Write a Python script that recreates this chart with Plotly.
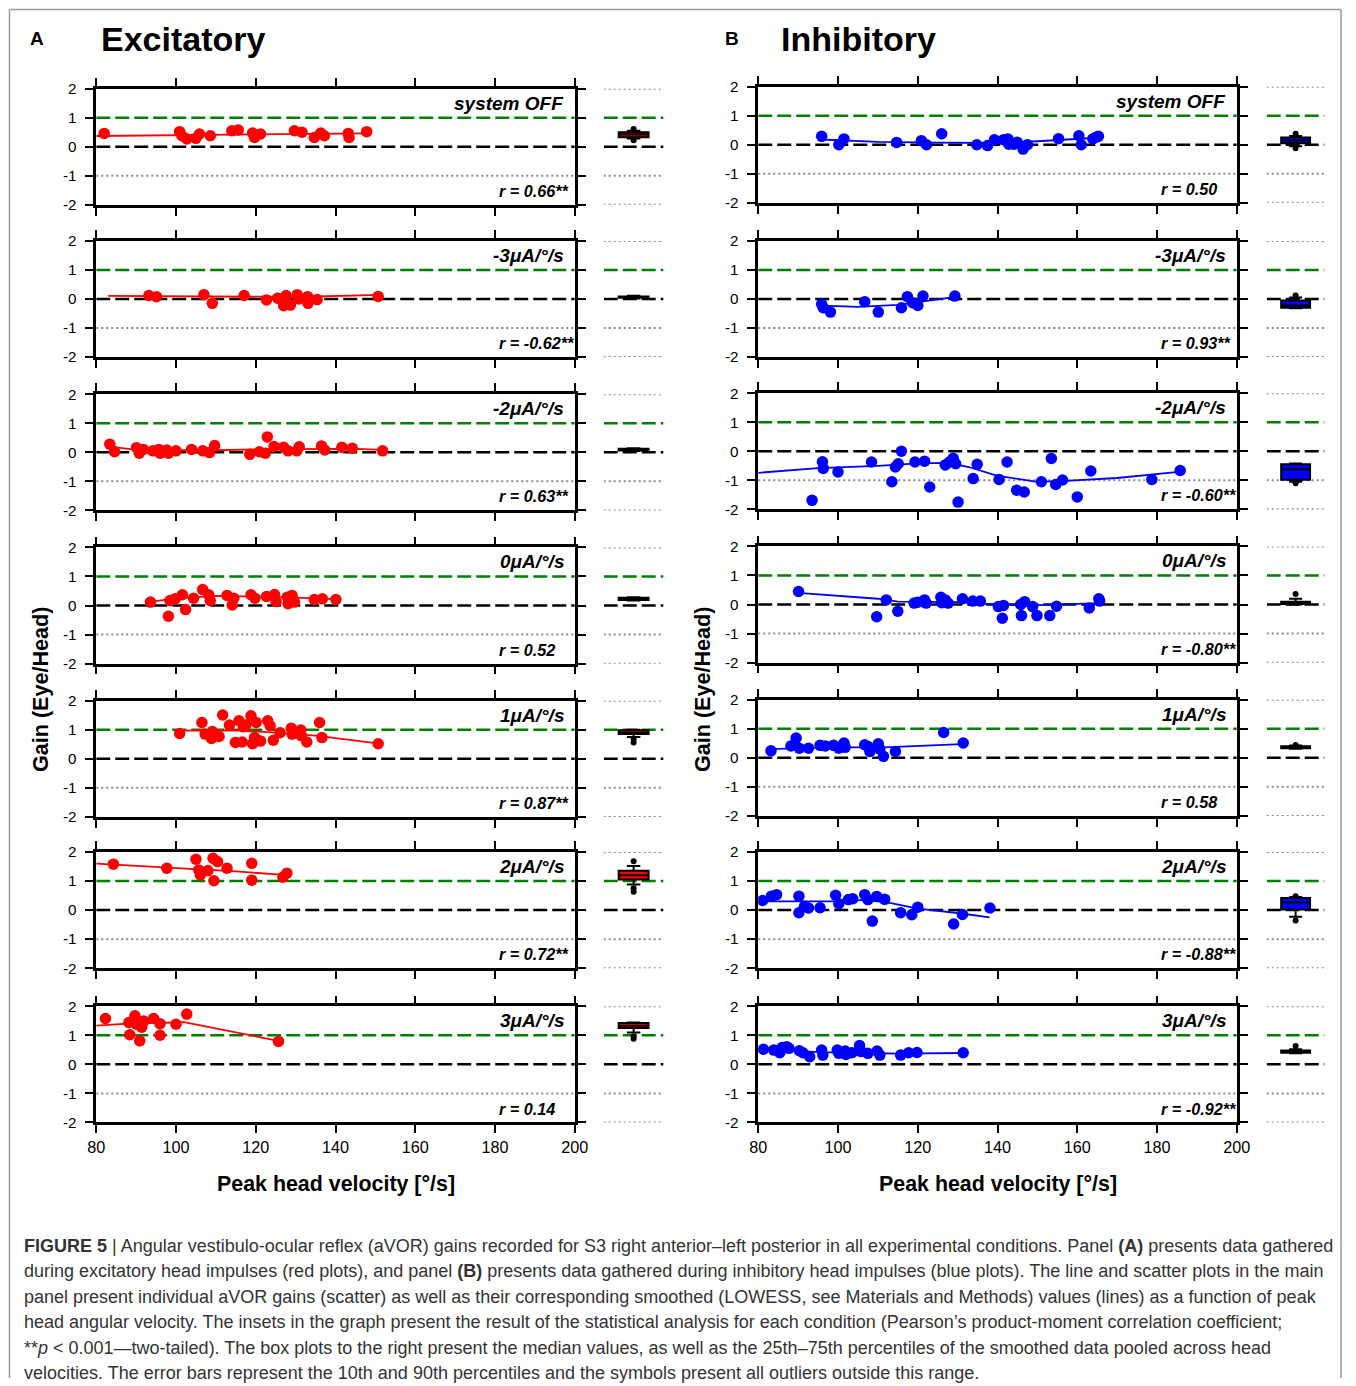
import plotly.graph_objects as go

W, H = 1356, 1386
FONT = "Liberation Sans, Arial, sans-serif"

# ---------------- data ----------------
velocity_ticks = [80, 100, 120, 140, 160, 180, 200]
gain_ticks = [-2, -1, 0, 1, 2]
gain_ticklabels = ["-2", "-1", "0", "1", "2"]

conditions = ["system OFF", "-3\u03bcA/\u00b0/s", "-2\u03bcA/\u00b0/s", "0\u03bcA/\u00b0/s",
              "1\u03bcA/\u00b0/s", "2\u03bcA/\u00b0/s", "3\u03bcA/\u00b0/s"]
exc_r = ["r = 0.66**", "r = -0.62**", "r = 0.63**", "r = 0.52", "r = 0.87**", "r = 0.72**", "r = 0.14"]
inh_r = ["r = 0.50", "r = 0.93**", "r = -0.60**", "r = -0.80**", "r = 0.58", "r = -0.88**", "r = -0.92**"]

# ---- Excitatory (A) ----
exc_off_x = [82, 100.9, 101.5, 102.7, 105, 105.9, 108.6, 114, 115.6, 119.2, 119.7, 121.2, 129.7, 131.6, 134.7, 136.3, 137.2, 143.2, 143.4, 147.8]
exc_off_y = [0.46, 0.52, 0.38, 0.27, 0.29, 0.44, 0.38, 0.55, 0.58, 0.47, 0.32, 0.44, 0.55, 0.5, 0.32, 0.47, 0.38, 0.46, 0.32, 0.52]
exc_off_lx = [80, 100, 120, 148]
exc_off_ly = [0.37, 0.40, 0.43, 0.46]

exc_m3_x = [93.2, 95.1, 107, 109.1, 117.1, 122.7, 125.5, 127, 127.6, 128.7, 130.4, 130.8, 133, 133.1, 135.4, 150.7]
exc_m3_y = [0.12, 0.08, 0.15, -0.15, 0.12, -0.03, 0.03, -0.23, 0.12, -0.21, 0.15, 0.0, 0.08, -0.15, -0.02, 0.09]
exc_m3_lx = [83, 110, 130, 151]
exc_m3_ly = [0.11, 0.08, 0.07, 0.14]

exc_m2_x = [83.4, 84.6, 90.1, 90.8, 91.8, 94.2, 95.7, 96, 97.7, 98.1, 100, 103.9, 106.7, 108.4, 109.7, 118.5, 120.9, 122.4, 122.9, 124.6, 127, 128.1, 130.3, 130.9, 136.5, 137.3, 141.6, 144.2, 151.8]
exc_m2_y = [0.28, 0.02, 0.16, -0.03, 0.1, 0.05, 0.1, -0.03, 0.08, -0.03, 0.05, 0.1, 0.05, -0.01, 0.23, -0.07, 0.02, -0.03, 0.53, 0.2, 0.17, 0.05, 0.05, 0.19, 0.22, 0.08, 0.17, 0.14, 0.05]
exc_m2_lx = [83, 90, 110, 125, 145, 152]
exc_m2_ly = [0.2, 0.08, 0.07, 0.11, 0.12, 0.08]

exc_0_x = [93.6, 98.1, 98.5, 99.8, 101.6, 102.4, 104.4, 106.7, 108.2, 108.6, 112.8, 114.1, 114.5, 118.8, 119.8, 122.7, 124.7, 125.1, 127.9, 128.1, 129.1, 129.7, 134.7, 136.7, 140.1]
exc_0_y = [0.12, -0.37, 0.17, 0.23, 0.37, -0.14, 0.25, 0.55, 0.37, 0.17, 0.35, 0.02, 0.25, 0.37, 0.25, 0.31, 0.38, 0.14, 0.29, 0.06, 0.35, 0.12, 0.21, 0.23, 0.21]
exc_0_lx = [93, 100, 110, 125, 140]
exc_0_ly = [0.12, 0.25, 0.33, 0.30, 0.22]

exc_p1_x = [100.9, 106.5, 107.3, 108.9, 109.1, 110.8, 111.7, 113.4, 114.9, 115.8, 116.6, 116.9, 117.5, 118.8, 119.2, 119.7, 120.1, 121.2, 123, 123.6, 124.4, 126.1, 128.9, 129.1, 131.3, 131.4, 132.8, 136, 136.6, 150.7]
exc_p1_y = [0.87, 1.25, 0.85, 0.7, 0.94, 0.77, 1.51, 1.16, 0.56, 1.31, 0.58, 1.1, 1.16, 1.48, 0.52, 0.73, 1.25, 0.61, 1.31, 1.14, 0.64, 0.9, 1.05, 0.85, 0.99, 0.8, 0.58, 1.25, 0.73, 0.52]
exc_p1_lx = [100, 115, 125, 135, 151]
exc_p1_ly = [0.97, 0.98, 0.90, 0.80, 0.52]

exc_p2_x = [84.3, 97.7, 105, 105.7, 106.1, 108, 109.3, 109.5, 110.4, 112.8, 119, 119, 126.8, 127.8]
exc_p2_y = [1.58, 1.44, 1.75, 1.38, 1.21, 1.36, 1.78, 1.01, 1.67, 1.44, 1.61, 1.03, 1.13, 1.27]
exc_p2_lx = [80, 100, 115, 128]
exc_p2_ly = [1.6, 1.45, 1.33, 1.2]

exc_p3_x = [82.3, 88.2, 88.4, 89.7, 90.1, 90.9, 91.4, 91.9, 94.4, 96, 96, 100, 102.7, 125.7]
exc_p3_y = [1.58, 1.44, 1.02, 1.67, 1.38, 0.81, 1.28, 1.49, 1.58, 1.4, 1.0, 1.38, 1.73, 0.79]
exc_p3_lx = [80, 88, 102, 126]
exc_p3_ly = [1.33, 1.4, 1.45, 0.8]

# ---- Inhibitory (B) ----
inh_off_x = [95.9, 100.2, 101.5, 114.7, 120.9, 122.2, 126, 134.8, 137.5, 139.2, 141.5, 142.6, 142.8, 144.1, 144.9, 146.4, 147.5, 155.3, 160.4, 161, 163.9, 164.7, 165.3]
inh_off_y = [0.29, 0.0, 0.2, 0.08, 0.14, 0.0, 0.38, 0.0, -0.03, 0.17, 0.17, 0.2, 0.02, 0.02, 0.09, -0.15, 0.0, 0.21, 0.31, 0.0, 0.2, 0.26, 0.29]
inh_off_lx = [96, 110, 125, 140, 150, 160, 165]
inh_off_ly = [0.18, 0.1, 0.07, 0.06, 0.12, 0.2, 0.24]

inh_m3_x = [95.9, 96.3, 98.1, 106.7, 110.1, 115.9, 117.4, 118.7, 120, 121.3, 129.3]
inh_m3_y = [-0.18, -0.3, -0.45, -0.09, -0.45, -0.3, 0.08, -0.13, -0.22, 0.1, 0.1]
inh_m3_lx = [96, 105, 115, 120, 130]
inh_m3_ly = [-0.23, -0.27, -0.2, -0.1, 0.08]

inh_m2_x = [93.5, 96.1, 96.3, 100, 108.4, 113.5, 114.4, 115.1, 115.9, 119.3, 121.7, 123, 126.9, 127.9, 128.9, 129.5, 130.1, 133.9, 134.9, 140.4, 142.4, 144.8, 146.7, 151, 153.5, 154.6, 156.3, 160, 163.4, 178.7, 185.8]
inh_m2_y = [-1.69, -0.36, -0.59, -0.71, -0.37, -1.05, -0.54, -0.43, 0.0, -0.37, -0.34, -1.23, -0.47, -0.37, -0.24, -0.43, -1.75, -0.94, -0.45, -0.97, -0.37, -1.34, -1.4, -1.05, -0.25, -1.14, -0.99, -1.57, -0.68, -0.97, -0.66]
inh_m2_lx = [80, 95, 110, 120, 128, 133, 140, 150, 157, 170, 186]
inh_m2_ly = [-0.74, -0.58, -0.5, -0.42, -0.4, -0.55, -0.85, -1.05, -1.02, -0.92, -0.7]

inh_0_x = [90.1, 109.7, 112.1, 115, 119.1, 120, 121.7, 122.1, 125.8, 126, 126.9, 127.6, 131.2, 133.8, 135.7, 140.2, 141.2, 141.5, 145.8, 146, 146.8, 148.8, 149.9, 153.1, 154.8, 163, 165.4, 165.6]
inh_0_y = [0.45, -0.42, 0.16, -0.23, 0.05, 0.08, 0.16, 0.05, 0.25, 0.06, 0.16, 0.05, 0.2, 0.12, 0.12, -0.07, -0.47, -0.03, 0.0, -0.38, 0.1, -0.07, -0.38, -0.38, -0.06, -0.12, 0.2, 0.12]
inh_0_lx = [90, 110, 115, 130, 140, 150, 166]
inh_0_ly = [0.4, 0.2, 0.1, 0.08, 0.0, -0.02, 0.05]

inh_p1_x = [83.2, 88.2, 89.5, 90.3, 92.6, 95.5, 96.8, 98.9, 100.2, 101.5, 101.8, 106.7, 107.5, 108, 110.1, 110.5, 111.4, 114.4, 126.5, 131.4]
inh_p1_y = [0.24, 0.41, 0.68, 0.33, 0.33, 0.43, 0.41, 0.43, 0.33, 0.51, 0.36, 0.45, 0.39, 0.22, 0.48, 0.3, 0.05, 0.22, 0.87, 0.51]
inh_p1_lx = [83, 100, 110, 131]
inh_p1_ly = [0.3, 0.37, 0.35, 0.47]

inh_p2_x = [81.1, 83.3, 84.6, 90.2, 90.2, 91.6, 92.6, 95.5, 99.4, 100.2, 102.6, 103.7, 106.7, 107.5, 108.6, 109.7, 111.7, 115.7, 118.5, 120, 129, 131.2, 138.1]
inh_p2_y = [0.33, 0.48, 0.53, 0.48, -0.09, 0.13, 0.07, 0.08, 0.51, 0.22, 0.36, 0.39, 0.53, 0.36, -0.38, 0.47, 0.37, -0.09, -0.16, 0.1, -0.48, -0.15, 0.07]
inh_p2_lx = [80, 100, 107, 113, 120, 130, 138]
inh_p2_ly = [0.3, 0.3, 0.35, 0.25, 0.05, -0.1, -0.25]

inh_p3_x = [81.3, 83.9, 85.4, 86, 87.1, 87.7, 90.3, 91.2, 92.9, 95.9, 96.2, 99.8, 100.2, 101.8, 102, 103.5, 105.4, 105.8, 107.5, 109.8, 110.5, 115.7, 117.7, 119.8, 131.4]
inh_p3_y = [0.52, 0.49, 0.4, 0.58, 0.61, 0.55, 0.47, 0.4, 0.26, 0.49, 0.32, 0.49, 0.38, 0.46, 0.34, 0.4, 0.65, 0.44, 0.38, 0.46, 0.32, 0.32, 0.4, 0.41, 0.4]
inh_p3_lx = [80, 85, 95, 105, 115, 131]
inh_p3_ly = [0.55, 0.5, 0.42, 0.4, 0.37, 0.39]

# ---- box plot summaries (smoothed data pooled across velocities) ----
exc_box_q1 = [0.33, 0.04, 0.06, 0.19, 0.85, 1.05, 1.25]
exc_box_med = [0.42, 0.07, 0.09, 0.23, 0.90, 1.20, 1.33]
exc_box_q3 = [0.50, 0.09, 0.12, 0.27, 0.98, 1.35, 1.42]
exc_box_lo = [0.28, 0.02, 0.04, 0.17, 0.75, 0.88, 1.10]
exc_box_hi = [0.55, 0.11, 0.14, 0.29, 1.00, 1.52, 1.44]
exc_box_out = [[0.61, 0.22], [], [], [], [0.68, 0.56], [1.68, 0.75, 0.63], [0.97, 0.88]]

inh_box_q1 = [0.05, -0.30, -0.98, 0.02, 0.33, 0.02, 0.40]
inh_box_med = [0.15, -0.22, -0.62, 0.06, 0.36, 0.26, 0.44]
inh_box_q3 = [0.25, -0.05, -0.45, 0.10, 0.40, 0.42, 0.48]
inh_box_lo = [-0.05, -0.32, -1.05, 0.0, 0.31, -0.23, 0.38]
inh_box_hi = [0.30, 0.05, -0.42, 0.20, 0.42, 0.45, 0.52]
inh_box_out = [[0.38, -0.12], [0.12], [-1.10], [0.36], [0.44], [0.48, -0.36], [0.63]]

# ---------------- assemble ----------------
exc_sx = [exc_off_x, exc_m3_x, exc_m2_x, exc_0_x, exc_p1_x, exc_p2_x, exc_p3_x]
exc_sy = [exc_off_y, exc_m3_y, exc_m2_y, exc_0_y, exc_p1_y, exc_p2_y, exc_p3_y]
exc_lx = [exc_off_lx, exc_m3_lx, exc_m2_lx, exc_0_lx, exc_p1_lx, exc_p2_lx, exc_p3_lx]
exc_ly = [exc_off_ly, exc_m3_ly, exc_m2_ly, exc_0_ly, exc_p1_ly, exc_p2_ly, exc_p3_ly]
inh_sx = [inh_off_x, inh_m3_x, inh_m2_x, inh_0_x, inh_p1_x, inh_p2_x, inh_p3_x]
inh_sy = [inh_off_y, inh_m3_y, inh_m2_y, inh_0_y, inh_p1_y, inh_p2_y, inh_p3_y]
inh_lx = [inh_off_lx, inh_m3_lx, inh_m2_lx, inh_0_lx, inh_p1_lx, inh_p2_lx, inh_p3_lx]
inh_ly = [inh_off_ly, inh_m3_ly, inh_m2_ly, inh_0_ly, inh_p1_ly, inh_p2_ly, inh_p3_ly]

# layout helpers: map target picture pixels to page pixels
S = 0.986
OFF = 8.5


def PX(x):
    return (x - OFF) / S


def PY(y):
    return (y - OFF) / S


def FS(v):
    return v / S


columns = [
    dict(sx=exc_sx, sy=exc_sy, lx=exc_lx, ly=exc_ly, r=exc_r, color="#ff0000",
         q1=exc_box_q1, med=exc_box_med, q3=exc_box_q3, lo=exc_box_lo, hi=exc_box_hi, out=exc_box_out,
         main_px=(96, 576), box_px=(605, 665), tops=[88, 240, 393, 546, 699, 850, 1004]),
    dict(sx=inh_sx, sy=inh_sy, lx=inh_lx, ly=inh_ly, r=inh_r, color="#0000ff",
         q1=inh_box_q1, med=inh_box_med, q3=inh_box_q3, lo=inh_box_lo, hi=inh_box_hi, out=inh_box_out,
         main_px=(760, 1240), box_px=(1270, 1328), tops=[86, 240, 392, 545, 698, 850, 1004]),
]
PANEL_H = 116

GREEN = dict(color="#008000", width=2.5, dash="14px,5px")
BLACKD = dict(color="black", width=2.5, dash="14px,5px")
GREYD = dict(color="#8a8a8a", width=2, dash="2px,3px")


def sfx(n):
    return "" if n == 1 else str(n)


fig = go.Figure()
layout = {}
shapes = []
annotations = []

for c, col in enumerate(columns):
    for i in range(7):
        m = c * 14 + i * 2 + 1
        b = m + 1
        top = col["tops"][i]
        ydom = [1 - PY(top + PANEL_H) / H, 1 - PY(top) / H]
        axstyle = dict(ticks="outside", ticklen=8, tickwidth=2, tickcolor="black",
                       showline=True, linewidth=2.5, linecolor="black", mirror="allticks",
                       showgrid=False, zeroline=False)
        layout["xaxis" + sfx(m)] = dict(domain=[PX(col["main_px"][0]) / W, PX(col["main_px"][1]) / W],
                                        range=[80, 200], anchor="y" + sfx(m),
                                        tickvals=velocity_ticks, showticklabels=(i == 6),
                                        tickfont=dict(size=FS(16), color="black", family=FONT),
                                        **axstyle)
        layout["yaxis" + sfx(m)] = dict(domain=ydom, range=[-2, 2], anchor="x" + sfx(m),
                                        tickvals=gain_ticks, ticktext=gain_ticklabels,
                                        tickfont=dict(size=FS(15), color="black", family=FONT),
                                        ticklabelstandoff=6, **axstyle)
        layout["xaxis" + sfx(b)] = dict(domain=[PX(col["box_px"][0]) / W, PX(col["box_px"][1]) / W],
                                        range=[0, 1], anchor="y" + sfx(b), visible=False)
        layout["yaxis" + sfx(b)] = dict(domain=ydom, range=[-2, 2], anchor="x" + sfx(b), visible=False)

        # reference lines main
        for yv, st in [(1, GREEN), (0, BLACKD), (-1, GREYD)]:
            shapes.append(dict(type="line", xref="x" + sfx(m), yref="y" + sfx(m),
                               x0=80, x1=200, y0=yv, y1=yv, line=st, layer="below"))
        # reference lines box
        for yv, st in [(2, GREYD), (1, GREEN), (0, BLACKD), (-1, GREYD), (-2, GREYD)]:
            shapes.append(dict(type="line", xref="x" + sfx(b), yref="y" + sfx(b),
                               x0=0, x1=1, y0=yv, y1=yv, line=st, layer="below"))

        # LOWESS line
        fig.add_trace(go.Scatter(x=col["lx"][i], y=col["ly"][i], mode="lines",
                                 line=dict(color=col["color"], width=1.8),
                                 xaxis="x" + sfx(m), yaxis="y" + sfx(m), showlegend=False))
        # scatter
        fig.add_trace(go.Scatter(x=col["sx"][i], y=col["sy"][i], mode="markers",
                                 marker=dict(color=col["color"], size=11.5, line=dict(width=0)),
                                 xaxis="x" + sfx(m), yaxis="y" + sfx(m), showlegend=False))
        # box
        fig.add_trace(go.Box(x=[0.5], q1=[col["q1"][i]], median=[col["med"][i]], q3=[col["q3"][i]],
                             lowerfence=[col["lo"][i]], upperfence=[col["hi"][i]],
                             width=0.5, whiskerwidth=0.45, fillcolor=col["color"],
                             line=dict(color="black", width=2), boxpoints=False,
                             xaxis="x" + sfx(b), yaxis="y" + sfx(b), showlegend=False))
        if col["out"][i]:
            fig.add_trace(go.Scatter(x=[0.5] * len(col["out"][i]), y=col["out"][i], mode="markers",
                                     marker=dict(color="black", size=6),
                                     xaxis="x" + sfx(b), yaxis="y" + sfx(b), showlegend=False))

        # condition label and r
        annotations.append(dict(text="<b><i>" + conditions[i] + "</i></b>", xref="x" + sfx(m),
                                yref="y" + sfx(m), x=197.8, y=1.5, xanchor="right", yanchor="middle",
                                showarrow=False, font=dict(size=19, color="black", family=FONT)))
        annotations.append(dict(text="<b><i>" + col["r"][i] + "</i></b>", xref="x" + sfx(m),
                                yref="y" + sfx(m), x=180.6, y=-1.52, xanchor="left", yanchor="middle",
                                showarrow=False, font=dict(size=16.2, color="black", family=FONT)))


def paper_text(text, x, y, size, bold=True, anchor="center", angle=0, color="black"):
    annotations.append(dict(text=("<b>" + text + "</b>") if bold else text, xref="paper", yref="paper",
                            x=PX(x) / W, y=1 - PY(y) / H, xanchor=anchor, yanchor="middle", textangle=angle,
                            showarrow=False, font=dict(size=size, color=color, family=FONT)))


paper_text("A", 37, 38, 19)
paper_text("Excitatory", 99, 38, 34, anchor="left")
paper_text("B", 734, 38, 19)
paper_text("Inhibitory", 781, 38, 34, anchor="left")
paper_text("Gain (Eye/Head)", 40, 687, 21.6, angle=-90)
paper_text("Gain (Eye/Head)", 704, 687, 21.6, angle=-90)
paper_text("Peak head velocity [\u00b0/s]", 336, 1181, 21.4)
paper_text("Peak head velocity [\u00b0/s]", 1000, 1181, 21.4)

caption_lines = [
    "<b>FIGURE 5</b> | Angular vestibulo-ocular reflex (aVOR) gains recorded for S3 right anterior\u2013left posterior in all experimental conditions. Panel <b>(A)</b> presents data gathered",
    "during excitatory head impulses (red plots), and panel <b>(B)</b> presents data gathered during inhibitory head impulses (blue plots). The line and scatter plots in the main",
    "panel present individual aVOR gains (scatter) as well as their corresponding smoothed (LOWESS, see Materials and Methods) values (lines) as a function of peak",
    "head angular velocity. The insets in the graph present the result of the statistical analysis for each condition (Pearson\u2019s product-moment correlation coefficient;",
    "**<i>p</i> &lt; 0.001\u2014two-tailed). The box plots to the right present the median values, as well as the 25th\u201375th percentiles of the smoothed data pooled across head",
    "velocities. The error bars represent the 10th and 90th percentiles and the symbols present all outliers outside this range.",
]
caption_y = [1243, 1268, 1294, 1319, 1345, 1370]
for t, yy in zip(caption_lines, caption_y):
    paper_text(t, 22, yy, 18, bold=False, anchor="left", color="#333333")

# outer border (left, top, right edges)
bx0, bx1 = PX(9) / W, min(PX(1352), W - 1) / W
by1 = 1 - PY(9) / H
for x0, y0, x1, y1 in [(bx0, 0, bx0, by1), (bx0, by1, bx1, by1), (bx1, 0, bx1, by1)]:
    shapes.append(dict(type="line", xref="paper", yref="paper", x0=x0, y0=y0, x1=x1, y1=y1,
                       line=dict(color="#9a9a9a", width=1.5), layer="below"))

fig.update_layout(width=W, height=H, margin=dict(l=0, r=0, t=0, b=0),
                  paper_bgcolor="white", plot_bgcolor="white",
                  shapes=shapes, annotations=annotations, showlegend=False,
                  font=dict(family=FONT), **layout)

post = (
    "document.documentElement.style.margin='0';document.documentElement.style.padding='0';"
    "document.documentElement.style.overflow='hidden';"
    "document.body.style.margin='0';document.body.style.padding='0';document.body.style.overflow='hidden';"
    "var gd=document.getElementsByClassName('plotly-graph-div')[0];"
    "gd.style.position='fixed';gd.style.left='0px';gd.style.top='0px';"
)
fig.write_html("out.html", config={"displayModeBar": False}, post_script=post)
